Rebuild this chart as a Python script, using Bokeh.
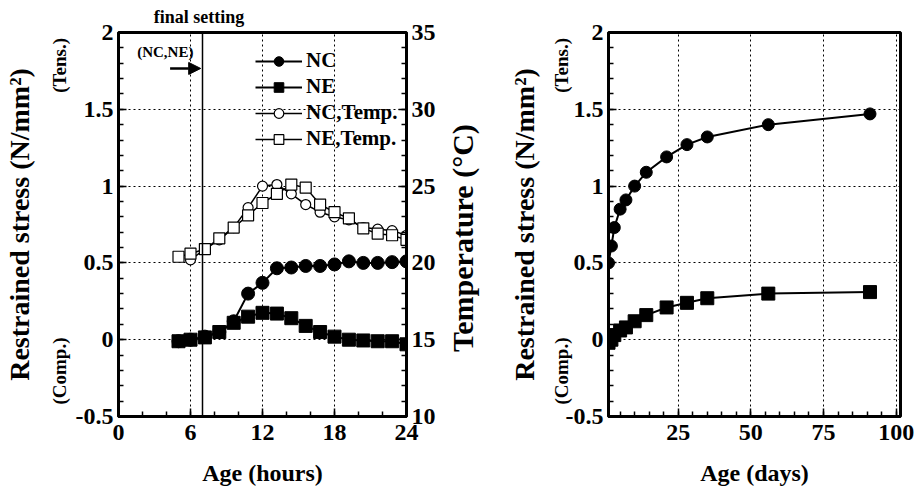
import math
from bokeh.plotting import figure
from bokeh.layouts import row
from bokeh.models import (Range1d, LinearAxis, SingleIntervalTicker, FixedTicker, Span, Arrow,
                          NormalHead, Label, Legend, LegendItem, CustomJSTickFormatter)
from bokeh.embed import file_html
from bokeh.resources import INLINE

# ---------------- data ----------------
hours = [5, 6, 7.2, 8.4, 9.6, 10.8, 12, 13.2, 14.4, 15.6, 16.8, 18, 19.2, 20.4, 21.6, 22.8, 24]
nc_stress_h = [-0.01, 0.0, 0.02, 0.05, 0.12, 0.30, 0.37, 0.465, 0.47, 0.48, 0.48, 0.49, 0.51, 0.50, 0.50, 0.505, 0.51]
ne_stress_h = [-0.01, 0.0, 0.015, 0.05, 0.11, 0.15, 0.175, 0.17, 0.14, 0.09, 0.05, 0.02, 0.0, -0.005, -0.01, -0.01, -0.03]
hours_nc_temp = [6, 7.2, 8.4, 9.6, 10.8, 12, 13.2, 14.4, 15.6, 16.8, 18, 19.2, 20.4, 21.6, 22.8, 24]
nc_temp = [20.2, 20.9, 21.5, 22.3, 23.6, 25.0, 25.1, 24.5, 23.8, 23.3, 23.0, 22.8, 22.3, 22.2, 22.1, 21.8]
ne_temp = [20.4, 20.6, 20.9, 21.6, 22.3, 23.1, 23.9, 24.5, 25.1, 24.9, 23.8, 23.3, 22.9, 22.25, 21.9, 21.8, 21.5]

days = [1, 2, 3, 5, 7, 10, 14, 21, 28, 35, 56, 91]
nc_stress_d = [0.50, 0.61, 0.73, 0.85, 0.91, 1.00, 1.09, 1.19, 1.27, 1.32, 1.40, 1.47]
ne_stress_d = [-0.02, 0.0, 0.03, 0.06, 0.08, 0.12, 0.16, 0.21, 0.24, 0.27, 0.30, 0.31]

final_setting_h = 7
stress_label = "Restrained stress (N/mm²)"
temp_label = "Temperature (°C)"
side_labels = ["(Tens.)", "(Comp.)"]

FONT = "Liberation Serif"
PLAIN = CustomJSTickFormatter(code="return tick.toString();")


def style_axis(ax, tick_size="24px", label_size="24px"):
    ax.axis_line_color = "black"
    ax.axis_line_width = 3
    ax.major_tick_in = 8
    ax.major_tick_out = 0
    ax.minor_tick_in = 5
    ax.minor_tick_out = 0
    ax.major_tick_line_width = 1.5
    ax.minor_tick_line_width = 1.5
    ax.major_label_text_font = FONT
    ax.major_label_text_font_style = "bold"
    ax.major_label_text_font_size = tick_size
    ax.major_label_text_color = "black"
    ax.axis_label_text_font = FONT
    ax.axis_label_text_font_style = "bold"
    ax.axis_label_text_font_size = label_size
    ax.axis_label_text_color = "black"


def bare_axis(ax):
    ax.axis_line_color = None
    ax.major_tick_line_color = None
    ax.minor_tick_line_color = None


def style_fig(p):
    p.outline_line_color = "black"
    p.outline_line_width = 3
    p.background_fill_color = "white"
    p.border_fill_color = "white"
    for g in p.grid:
        g.grid_line_color = "black"
        g.grid_line_width = 1
        g.grid_line_dash = "2 3"


def add_stress_axes(p, side_standoff, label_standoff):
    # main y axis: ticks + numbers, no title
    p.yaxis.ticker = SingleIntervalTicker(interval=0.5, num_minor_ticks=5)
    p.yaxis.formatter = PLAIN
    style_axis(p.yaxis[0])
    p.yaxis.major_label_standoff = 5
    # outer axis: (Tens.) / (Comp.) and the title
    outer = LinearAxis(ticker=FixedTicker(ticks=[1.786, -0.204]),
                       formatter=CustomJSTickFormatter(
                           code="return tick > 0.5 ? '%s' : '%s';" % (side_labels[0], side_labels[1])),
                       axis_label=stress_label)
    style_axis(outer, tick_size="19px", label_size="28px")
    bare_axis(outer)
    outer.major_label_orientation = "vertical"
    outer.major_label_standoff = side_standoff
    outer.axis_label_standoff = label_standoff
    p.add_layout(outer, "left")


# ---------------- left figure ----------------
p1 = figure(width=498, height=488, output_backend="svg", toolbar_location=None,
            x_range=Range1d(0, 24), y_range=Range1d(-0.5, 2),
            min_border_left=116, min_border_right=92, min_border_top=32, min_border_bottom=71)
p1.extra_y_ranges = {"temp": Range1d(10, 35)}
p1.xaxis.ticker = SingleIntervalTicker(interval=6, num_minor_ticks=3)
p1.xgrid.ticker = SingleIntervalTicker(interval=6)
p1.ygrid.ticker = SingleIntervalTicker(interval=0.5)
p1.xaxis.axis_label = "Age (hours)"
p1.xaxis.formatter = PLAIN
style_axis(p1.xaxis[0])
p1.xaxis.major_label_standoff = 8
p1.xaxis.axis_label_standoff = 17
add_stress_axes(p1, 2, 12)

temp_axis = LinearAxis(y_range_name="temp",
                       ticker=SingleIntervalTicker(interval=5, num_minor_ticks=5), formatter=PLAIN)
style_axis(temp_axis)
temp_axis.major_label_standoff = 5
p1.add_layout(temp_axis, "right")

# the title text starts at its tick and runs upward
temp_title_axis = LinearAxis(y_range_name="temp", ticker=FixedTicker(ticks=[14.2]),
                             formatter=CustomJSTickFormatter(code="return '%s';" % temp_label))
style_axis(temp_title_axis, tick_size="30px")
bare_axis(temp_title_axis)
temp_title_axis.major_label_orientation = math.pi / 2
temp_title_axis.major_label_standoff = 24
p1.add_layout(temp_title_axis, "right")

top_axis = LinearAxis(ticker=FixedTicker(ticks=[6.7]),
                      formatter=CustomJSTickFormatter(code="return 'final setting';"))
style_axis(top_axis, tick_size="18px")
bare_axis(top_axis)
top_axis.major_label_standoff = 6
p1.add_layout(top_axis, "above")
style_fig(p1)

p1.add_layout(Span(location=final_setting_h, dimension="height", line_color="black", line_width=1.5))

l_nct = p1.line(hours_nc_temp, nc_temp, y_range_name="temp", line_color="black", line_width=1.5)
s_nct = p1.scatter(hours_nc_temp, nc_temp, y_range_name="temp", marker="circle", size=10,
                   fill_color="white", line_color="black", line_width=1.2)
l_net = p1.line(hours, ne_temp, y_range_name="temp", line_color="black", line_width=1.5)
s_net = p1.scatter(hours, ne_temp, y_range_name="temp", marker="square", size=11,
                   fill_color="white", line_color="black", line_width=1.2)
l_nc = p1.line(hours, nc_stress_h, line_color="black", line_width=2)
s_nc = p1.scatter(hours, nc_stress_h, marker="circle", size=13, fill_color="black", line_color="black")
l_ne = p1.line(hours, ne_stress_h, line_color="black", line_width=2)
s_ne = p1.scatter(hours, ne_stress_h, marker="square", size=13, fill_color="black", line_color="black")

legend = Legend(items=[LegendItem(label="NC", renderers=[l_nc, s_nc]),
                       LegendItem(label="NE", renderers=[l_ne, s_ne]),
                       LegendItem(label="NC,Temp.", renderers=[l_nct, s_nct]),
                       LegendItem(label="NE,Temp.", renderers=[l_net, s_net])],
                location=(137, 265), padding=0, margin=0, spacing=1,
                glyph_width=47, glyph_height=24, label_height=24, label_standoff=4,
                border_line_color=None, background_fill_alpha=0,
                label_text_font=FONT, label_text_font_style="bold", label_text_font_size="21px",
                label_text_color="black")
p1.add_layout(legend)

p1.add_layout(Label(x=3.9, y=1.87, text="(NC,NE)", text_align="center", text_baseline="middle",
                    text_font=FONT, text_font_style="bold", text_font_size="15px", text_color="black"))
p1.add_layout(Arrow(end=NormalHead(size=12, fill_color="black", line_color="black"),
                    x_start=4.3, y_start=1.766, x_end=6.85, y_end=1.766,
                    line_color="black", line_width=2.5))

# ---------------- right figure ----------------
p2 = figure(width=419, height=488, output_backend="svg", toolbar_location=None,
            x_range=Range1d(1, 101.5), y_range=Range1d(-0.5, 2),
            min_border_left=110, min_border_right=17, min_border_top=32, min_border_bottom=71)
p2.xaxis.ticker = SingleIntervalTicker(interval=25, num_minor_ticks=5)
p2.xgrid.ticker = SingleIntervalTicker(interval=25)
p2.ygrid.ticker = SingleIntervalTicker(interval=0.5)
p2.xaxis.axis_label = "Age (days)"
p2.xaxis.formatter = PLAIN
style_axis(p2.xaxis[0])
p2.xaxis.major_label_standoff = 8
p2.xaxis.axis_label_standoff = 17
add_stress_axes(p2, -10, 9)
style_fig(p2)

p2.line(days, nc_stress_d, line_color="black", line_width=2)
p2.scatter(days, nc_stress_d, marker="circle", size=12, fill_color="black", line_color="black")
p2.line(days, ne_stress_d, line_color="black", line_width=2)
p2.scatter(days, ne_stress_d, marker="square", size=13, fill_color="black", line_color="black")

layout = row(p1, p2)
open("out.html", "w").write(file_html(layout, INLINE))
